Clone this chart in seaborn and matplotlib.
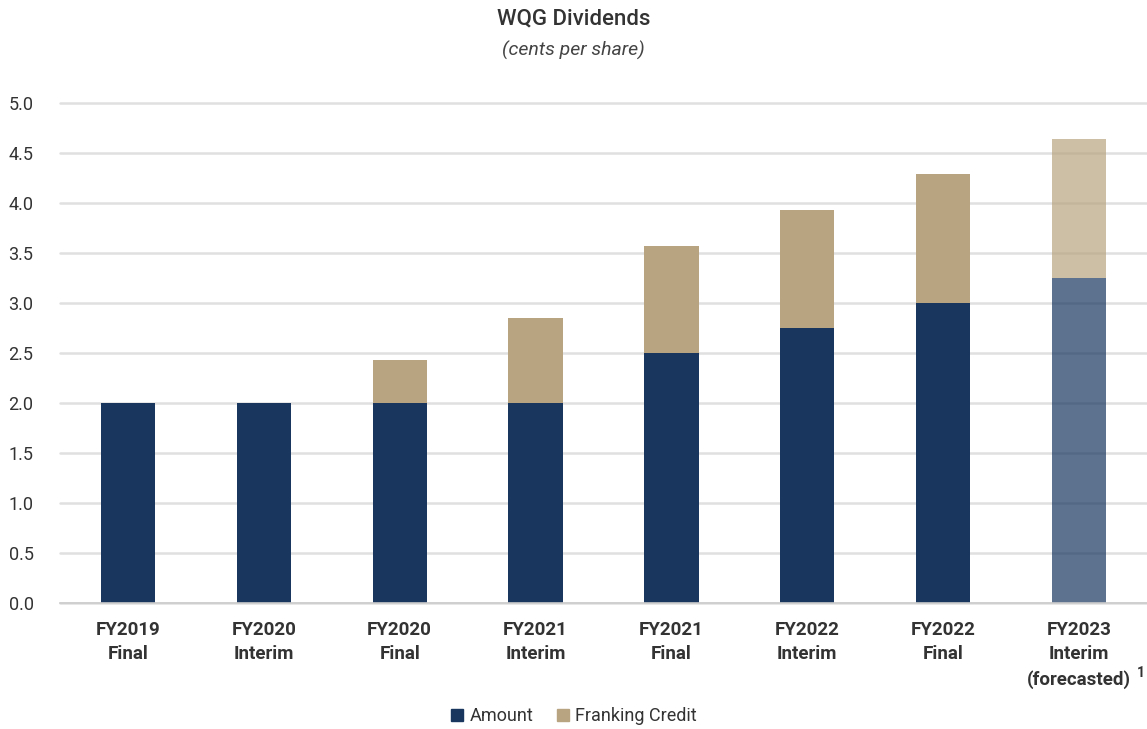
import matplotlib
matplotlib.use("Agg")
import matplotlib.pyplot as plt
import seaborn as sns
import pandas as pd
from matplotlib.lines import Line2D

categories = ["FY2019\nFinal", "FY2020\nInterim", "FY2020\nFinal", "FY2021\nInterim",
              "FY2021\nFinal", "FY2022\nInterim", "FY2022\nFinal", "FY2023\nInterim\n(forecasted)"]
amount = [2.0, 2.0, 2.0, 2.0, 2.5, 2.75, 3.0, 3.25]
franking = [0.0, 0.0, 0.43, 0.85, 1.07, 1.18, 1.29, 1.39]
forecast = [False, False, False, False, False, False, False, True]

NAVY = "#18365e"
TAN = "#b8a480"

sns.set_theme(style="white")
plt.rcParams["font.family"] = ["Roboto", "DejaVu Sans"]

df = pd.DataFrame({"cat": categories, "amount": amount, "franking": franking})

fig = plt.figure(figsize=(11.47, 7.29), dpi=100)
ax = fig.add_axes([60 / 1147, (729 - 603) / 729, 1 - 60 / 1147, (603 - 103) / 729])

sns.barplot(data=df, x="cat", y="amount", color=NAVY, width=0.4, saturation=1, ax=ax,
            zorder=3, linewidth=0, edgecolor="none")
pos = list(range(len(categories)))
fr = ax.bar(pos, df["franking"], bottom=df["amount"], width=0.4, color=TAN, zorder=3, linewidth=0)
for i, f in enumerate(forecast):
    if f:
        ax.patches[i].set_alpha(0.7)
        fr[i].set_alpha(0.7)

ax.set_ylim(0, 5.0)
ax.set_xlim(-0.5, 7.5)
ax.set_yticks([0, 0.5, 1.0, 1.5, 2.0, 2.5, 3.0, 3.5, 4.0, 4.5, 5.0])
ax.set_yticklabels([f"{v:.1f}" for v in ax.get_yticks()], fontsize=13, color="#333333")
ax.yaxis.grid(True, color="#e0e0e0", linewidth=1.8, zorder=0)
for gl in ax.get_ygridlines():
    gl.set_clip_on(False)
ax.set_axisbelow(True)
ax.set_xlabel("")
ax.set_ylabel("")
ax.set_xticks(pos)
ax.set_xticklabels(categories, fontsize=13.5, fontweight="bold", color="#333333", linespacing=1.45, va="top")
ax.tick_params(axis="x", length=0, pad=13)
ax.tick_params(axis="y", length=0, pad=19)
ax.set_xticks([5.5], minor=True)
ax.tick_params(axis="x", which="minor", length=8, color="#dddddd", width=1)
for s in ["top", "right", "left"]:
    ax.spines[s].set_visible(False)
ax.spines["bottom"].set_color("#cccccc")
ax.spines["bottom"].set_linewidth(1.2)
ax.spines["bottom"].set_zorder(4)

fig.text(1141 / 1147, 1 - 673 / 729, "1", fontsize=10, fontweight="bold", color="#333333", ha="center", va="center")

fig.text(0.5, 1 - 19 / 729, "WQG Dividends", fontsize=16, fontweight="medium", color="#333333", ha="center", va="center")
fig.text(0.5, 1 - 50 / 729, "(cents per share)", fontsize=14, style="italic", color="#444444", ha="center", va="center")

handles = [Line2D([], [], marker="s", linestyle="", markersize=8, color=NAVY),
           Line2D([], [], marker="s", linestyle="", markersize=8, color=TAN)]
fig.legend(handles, ["Amount", "Franking Credit"], loc="center", bbox_to_anchor=(0.5, 1 - 716 / 729),
           ncol=2, frameon=False, fontsize=13, handlelength=0.8, handletextpad=0.3,
           columnspacing=1.2, labelcolor="#333333")

fig.savefig("out.png", dpi=100)
